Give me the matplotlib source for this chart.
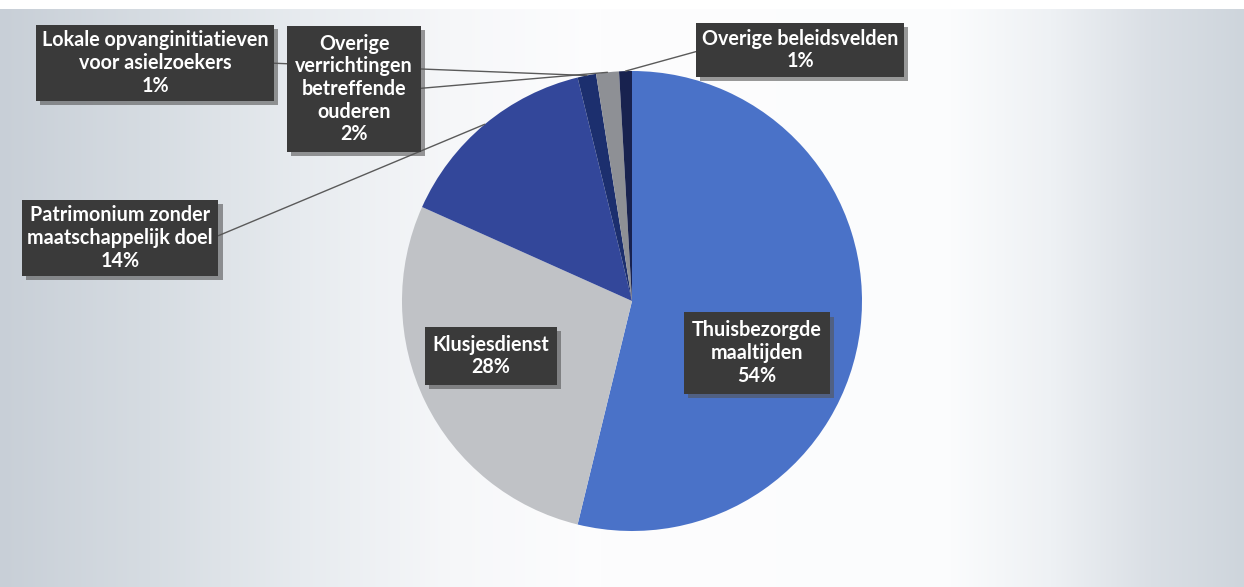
import numpy as np
import matplotlib
matplotlib.use("Agg")
import matplotlib.pyplot as plt
import matplotlib.patheffects as pe

categories = ["Thuisbezorgde\nmaaltijden", "Klusjesdienst", "Patrimonium zonder\nmaatschappelijk doel",
              "Lokale opvanginitiatieven\nvoor asielzoekers", "Overige\nverrichtingen\nbetreffende\nouderen",
              "Overige beleidsvelden"]
values = [53.8, 27.9, 14.5, 1.3, 1.6, 0.9]
pct_labels = ["54%", "28%", "14%", "1%", "2%", "1%"]
colors = ["#4a72c8", "#c0c2c6", "#33479a", "#1c2f6e", "#8e9095", "#18224f"]

W, H = 1244, 587
fig = plt.figure(figsize=(W / 100, H / 100), dpi=100)
ax = fig.add_axes([0, 0, 1, 1])

# background gradient (scanned sheet look)
xs = np.array([0, 150, 300, 450, 600, 950, 1050, 1150, 1244])
cs = np.array([[200, 207, 215], [214, 220, 226], [231, 235, 239], [246, 247, 249],
               [253, 253, 254], [251, 252, 253], [238, 241, 244], [218, 223, 229],
               [206, 213, 220]]) / 255.0
gx = np.arange(W)
grad = np.stack([np.interp(gx, xs, cs[:, k]) for k in range(3)], axis=-1)
img = np.repeat(grad[None, :, :], H, axis=0)
img[:9, :, :] = 1.0
ax.imshow(img, extent=(0, W, 0, H), origin="upper", zorder=0, aspect="auto")

cx, cy, R = 632, H - 301, 230
wedges, _ = ax.pie(values, colors=colors, startangle=90, counterclock=False,
                   center=(cx, cy), radius=R, frame=True,
                   wedgeprops=dict(linewidth=0), labels=None)
for w in wedges:
    w.set_zorder(2)
ax.set_xlim(0, W)
ax.set_ylim(0, H)
ax.set_aspect("equal")
ax.axis("off")

font = dict(family=["Lato", "DejaVu Sans"], size=14.2, color="white", weight="bold",
            ha="center", va="center", linespacing=1.17)
shadow = [pe.withSimplePatchShadow(offset=(3, -3), shadow_rgbFace="#555555", alpha=0.6)]

# label box centres (axes pixel coords) and leader settings
specs = [
    ((757, H - 353), None, None),
    ((491, H - 356), None, None),
    ((120, H - 238), (1, 0.5), 5),
    ((155, H - 63), (1, 0.5), 3),
    ((354, H - 89), (1, 0.5), 6),
    ((800, H - 50), (0, 0.5), 4),
]
pads = [0.4, 0.4, 0.28, 0.28, 0.4, 0.3]

for i, w in enumerate(wedges):
    mid = np.deg2rad((w.theta1 + w.theta2) / 2)
    px, py = cx + R * np.cos(mid), cy + R * np.sin(mid)
    pos, relpos, z = specs[i]
    txt = categories[i] + "\n" + pct_labels[i]
    bbox = dict(boxstyle=f"square,pad={pads[i]}", fc="#3a3a3a", ec="none")
    if relpos is None:
        t = ax.annotate(txt, xy=pos, xytext=pos, bbox=bbox, zorder=5, **font)
    else:
        t = ax.annotate(txt, xy=(px, py), xytext=pos, bbox=bbox, zorder=z,
                        arrowprops=dict(arrowstyle="-", color="#5a5a5a", lw=1.0,
                                        relpos=relpos, shrinkA=0, shrinkB=0),
                        **font)
    t.get_bbox_patch().set_path_effects(shadow)

fig.savefig("out.png", dpi=100)
